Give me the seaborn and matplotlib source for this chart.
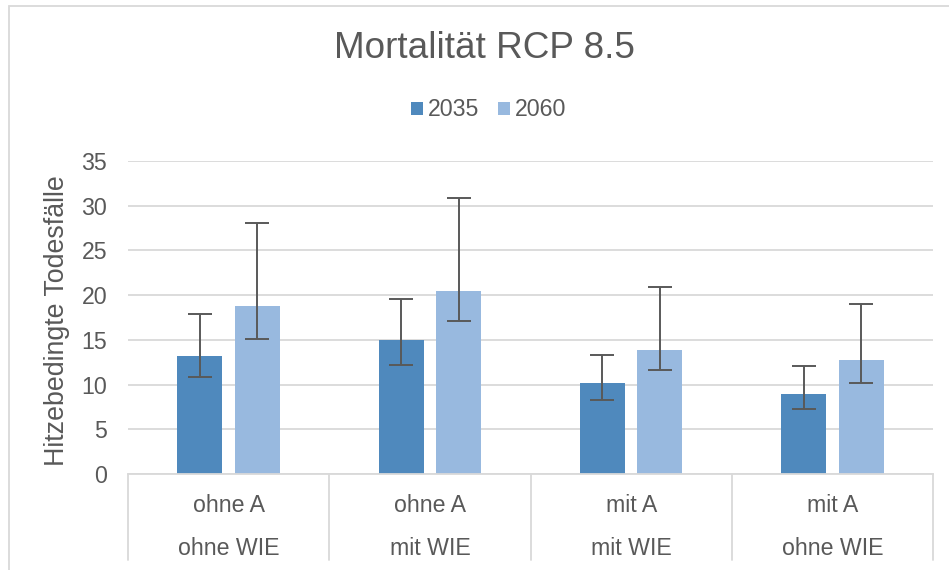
import matplotlib
matplotlib.use("Agg")
import matplotlib.pyplot as plt
import matplotlib.patches as mpatches
import matplotlib.transforms as mtrans
import seaborn as sns
import pandas as pd
import numpy as np

# ---- data ----
level1 = ["ohne A", "ohne A", "mit A", "mit A"]
level2 = ["ohne WIE", "mit WIE", "mit WIE", "ohne WIE"]
years = ["2035", "2060"]
values_2035 = [13.2, 15.0, 10.2, 9.0]
values_2060 = [18.8, 20.5, 13.9, 12.8]
low_2035 = [10.8, 12.2, 8.3, 7.3]
high_2035 = [17.9, 19.6, 13.3, 12.1]
low_2060 = [15.1, 17.1, 11.6, 10.2]
high_2060 = [28.1, 30.9, 20.9, 19.0]
yticks = [0, 5, 10, 15, 20, 25, 30, 35]
title = "Mortalität RCP 8.5"
ylabel = "Hitzebedingte Todesfälle"

colors = {"2035": "#4F89BD", "2060": "#98B9DF"}
text_color = "#595959"
grid_color = "#D9D9D9"
FS = 16.7

categories = [f"{a}|{b}" for a, b in zip(level1, level2)]
df = pd.DataFrame({
    "Szenario": categories * 2,
    "Jahr": [years[0]] * 4 + [years[1]] * 4,
    "Wert": values_2035 + values_2060,
})
lows = {"2035": low_2035, "2060": low_2060}
highs = {"2035": high_2035, "2060": high_2060}
vals = {"2035": values_2035, "2060": values_2060}

sns.set_theme(style="white")
plt.rcParams["font.family"] = ["Liberation Sans", "DejaVu Sans"]

W, H = 949, 570
fig = plt.figure(figsize=(W / 100, H / 100), dpi=100)
ax = fig.add_axes([128 / W, 1 - 474 / H, (933 - 128) / W, (474 - 161) / H])

sns.barplot(data=df, x="Szenario", y="Wert", hue="Jahr", order=categories,
            hue_order=years, palette=colors, saturation=1, width=0.572,
            gap=0.217, errorbar=None, linewidth=0, ax=ax, zorder=2)

# error bars
for cont, yr in zip(ax.containers, years):
    xs = [p.get_x() + p.get_width() / 2 for p in cont.patches]
    v = np.array(vals[yr])
    lo = v - np.array(lows[yr])
    hi = np.array(highs[yr]) - v
    ax.errorbar(xs, v, yerr=[lo, hi], fmt="none", ecolor="#595959",
                elinewidth=1.4, capsize=8.5, capthick=1.4, zorder=3)

ax.set_ylim(0, 35)
ax.set_xlim(-0.5, len(categories) - 0.5)
ax.set_yticks(yticks)
ax.set_yticklabels([str(t) for t in yticks], fontsize=FS, color=text_color)
ax.tick_params(axis="y", length=0, pad=15)
ax.set_xticks([])
ax.set_xlabel("")
ax.set_ylabel(ylabel, fontsize=19.3, color=text_color)
ax.yaxis.set_label_coords(-0.072, 0.489)

ax.grid(axis="y", color=grid_color, linewidth=1.3, zorder=0)
ax.set_axisbelow(True)
for s in ["top", "right", "left"]:
    ax.spines[s].set_visible(False)
ax.spines["bottom"].set_color(grid_color)
ax.spines["bottom"].set_linewidth(1.3)

# category axis: separators and two-level labels
trans = mtrans.blended_transform_factory(ax.transData, ax.transAxes)
ybot = (474 - 560) / (474 - 161)
for i in range(len(categories) + 1):
    ax.plot([i - 0.5, i - 0.5], [0, ybot], transform=trans, color=grid_color,
            linewidth=1.3, clip_on=False)
y1 = (474 - 512) / (474 - 161)
y2 = (474 - 555) / (474 - 161)
for i, (a, b) in enumerate(zip(level1, level2)):
    ax.text(i, y1, a, transform=trans, ha="center", va="baseline",
            fontsize=FS, color=text_color)
    ax.text(i, y2, b, transform=trans, ha="center", va="baseline",
            fontsize=FS, color=text_color)

# legend
sns.move_legend(ax, "center", bbox_to_anchor=(488.5 / W, 1 - 110 / H),
                bbox_transform=fig.transFigure, ncol=2, frameon=False,
                title=None, fontsize=FS, handlelength=0.52, handleheight=0.52,
                handletextpad=0.22, columnspacing=0.78, labelcolor=text_color,
                borderpad=0)

# title
fig.text(484.5 / W, 1 - 48 / H, title, ha="center", va="center",
         fontsize=26.6, color=text_color)

# chart frame
fig.patches.append(mpatches.Rectangle((9 / W, -0.1), 2, 1 - 6 / H + 0.1,
                                      transform=fig.transFigure, fill=False,
                                      edgecolor=grid_color, linewidth=1.3))

fig.savefig("out.png", dpi=100)
